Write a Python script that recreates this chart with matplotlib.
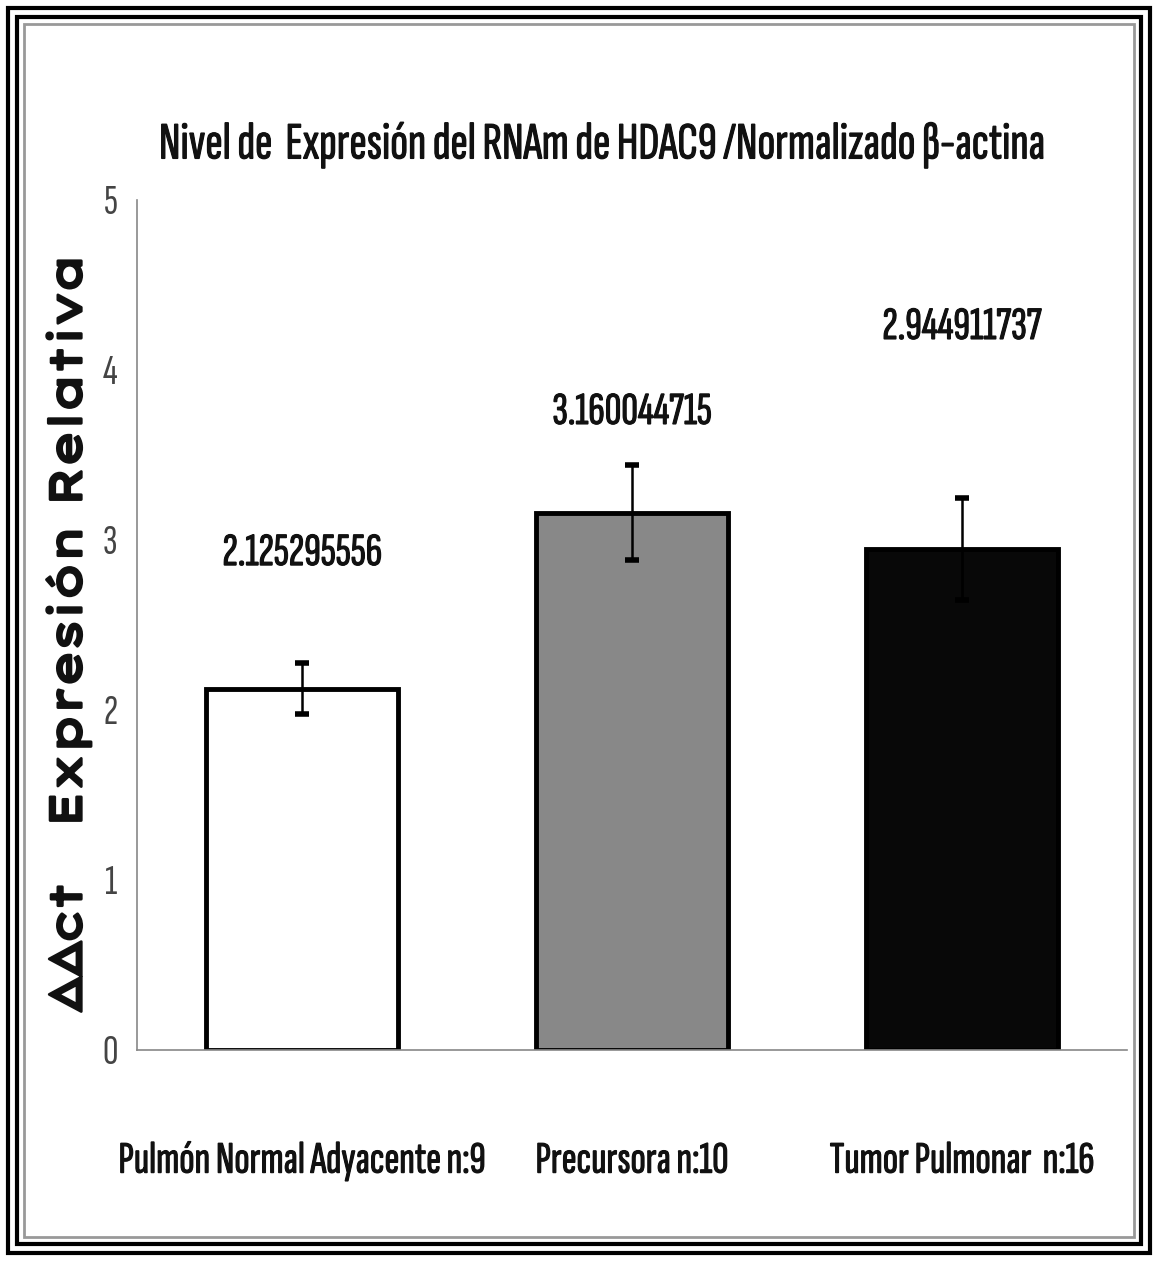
import matplotlib
matplotlib.use("Agg")
import matplotlib.pyplot as plt
from matplotlib.patches import Rectangle
from matplotlib import font_manager
import matplotlib.patheffects as pe

categories = ["Pulmón Normal Adyacente n:9", "Precursora n:10", "Tumor Pulmonar  n:16"]
values = [2.125295556, 3.160044715, 2.944911737]
errors = [0.15, 0.28, 0.30]
value_labels = ["2.125295556", "3.160044715", "2.944911737"]
label_heights = [2.92, 3.75, 4.25]
colors = ["#ffffff", "#888888", "#080808"]
yticks = [0, 1, 2, 3, 4, 5]
title = "Nivel de  Expresión del RNAm de HDAC9 /Normalizado β-actina"
ylabel = "ΔΔct   Expresión Relativa"

names = {f.name for f in font_manager.fontManager.ttflist}
def pick(prefs):
    for p in prefs:
        if p in names:
            return [p, "DejaVu Sans"]
    return ["DejaVu Sans"]

narrow = pick(["Sofia Sans Extra Condensed", "Pathway Gothic One", "Fira Sans Extra Condensed"])
wide = pick(["Lexend Mega", "Lexend Zetta", "Krona One", "DejaVu Sans"])

thick = [pe.withStroke(linewidth=0.8, foreground="#111111")]
thick_y = [pe.withStroke(linewidth=2.0, foreground="#111111")]

W, H = 1158, 1261
fig = plt.figure(figsize=(W / 100, H / 100), dpi=100)
fig.patch.set_facecolor("white")

fig.patches.append(Rectangle((8 / W, 8 / H), (W - 16) / W, (H - 16) / H, transform=fig.transFigure,
                             fill=False, edgecolor="black", linewidth=3))
fig.patches.append(Rectangle((17 / W, 17 / H), (W - 34) / W, (H - 34) / H, transform=fig.transFigure,
                             fill=False, edgecolor="black", linewidth=3))
fig.patches.append(Rectangle((24 / W, 24 / H), (W - 48) / W, (H - 48) / H, transform=fig.transFigure,
                             fill=False, edgecolor="#999999", linewidth=2))

ax = fig.add_axes([137 / W, (H - 1050) / H, (1127 - 137) / W, (1050 - 200) / H])
x = list(range(len(categories)))
ax.bar(x, values, width=0.58, color=colors, edgecolor="black", linewidth=3.5, zorder=2)
ax.errorbar(x, values, yerr=errors, fmt="none", ecolor="black", elinewidth=1.8,
            capsize=5, capthick=4, zorder=3)
vtexts = []
for xi, lab, hy in zip(x, value_labels, label_heights):
    vtexts.append(ax.text(xi, hy, lab, ha="center", va="center", fontsize=30, family=narrow,
                          color="#111111", path_effects=thick))

ax.set_xlim(-0.5, 2.5)
ax.set_ylim(0, 5)
ax.set_yticks(yticks)
ax.set_yticklabels([str(t) for t in yticks], family=narrow, fontsize=31, color="#444444")
ax.set_xticks(x)
ax.set_xticklabels(categories, family=narrow, fontsize=32, color="#111111")
for t in ax.get_xticklabels():
    t.set_path_effects(thick)
ax.tick_params(axis="both", length=0)
ax.tick_params(axis="x", pad=66)
ax.tick_params(axis="y", pad=14)
for s in ["top", "right"]:
    ax.spines[s].set_visible(False)
for s in ["left", "bottom"]:
    ax.spines[s].set_color("#888888")
    ax.spines[s].set_linewidth(1.2)

t_title = fig.text(602 / W, 1 - 145 / H, title, ha="center", va="center", fontsize=36,
                   family=narrow, color="#111111", path_effects=thick)
t_ylab = fig.text(68 / W, 1 - 630 / H, ylabel, rotation=90, ha="center", va="center",
                  fontsize=24, fontweight="bold", family=wide, color="#111111", path_effects=thick_y)

# fit text sizes to the reference extents
fig.canvas.draw()
r = fig.canvas.get_renderer()
def fit(t, px, use_h=False):
    bb = t.get_window_extent(r)
    cur = bb.height if use_h else bb.width
    t.set_fontsize(t.get_fontsize() * px / cur)
fit(t_title, 885)
fit(t_ylab, 770, use_h=True)
for t in vtexts:
    fit(t, 159)
xt = ax.get_xticklabels()
bb = xt[0].get_window_extent(r)
fs = xt[0].get_fontsize() * 367 / bb.width
for t in xt:
    t.set_fontsize(fs)

fig.savefig("out.png", dpi=100, facecolor="white")
